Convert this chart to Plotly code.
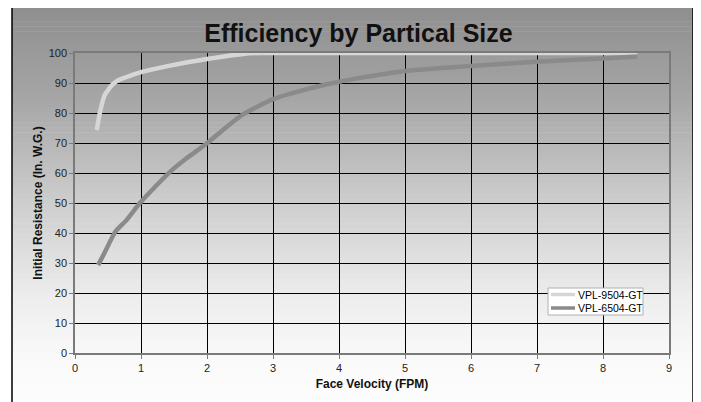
import plotly.graph_objects as go

# ---- data ----
vpl9504_x = [0.33, 0.38, 0.45, 0.56, 0.66, 1.0, 1.44, 2.0, 2.55, 2.8, 4.0, 6.0, 8.52]
vpl9504_y = [74.3, 80.4, 86.0, 89.3, 91.0, 93.6, 95.8, 98.0, 99.7, 100, 100, 100, 100]

vpl6504_x = [0.35, 0.45, 0.61, 0.78, 0.98, 1.24, 1.44, 1.69, 2.0, 2.2, 2.55, 3.0, 3.56,
             4.02, 4.32, 5.0, 6.0, 7.0, 8.0, 8.52]
vpl6504_y = [29.3, 33.5, 40.4, 44.3, 49.9, 56.0, 60.4, 64.9, 69.9, 73.6, 79.6, 84.6, 88.2,
             90.5, 91.7, 94.0, 95.7, 97.1, 98.2, 98.8]

series_names = ["VPL-9504-GT", "VPL-6504-GT"]
series_colors = ["#d6d6d6", "#8a8a8a"]
x_ticks = [0, 1, 2, 3, 4, 5, 6, 7, 8, 9]
y_ticks = [0, 10, 20, 30, 40, 50, 60, 70, 80, 90, 100]

# ---- layout constants (page has an 8px body margin) ----
OFF = 8
W, H = 701 - OFF, 402 - OFF
PL, PR, PT, PB = 75, 669, 53, 353          # plot area in reference pixels
ML, MR, MT, MB = PL - OFF, W - (PR - OFF), PT - OFF, H - (PB - OFF)
PW = PR - PL
PH = PB - PT
FONT = "Liberation Sans, Arial, sans-serif"


def px_x(px):
    return (px - PL) / PW


def px_y(py):
    return (PB - py) / PH


# gradient stops (reference pixel y -> grey level)
stops = [(6, 142), (100, 166), (200, 205), (300, 238), (360, 250), (410, 253)]


def grey_at(py):
    for (y0, g0), (y1, g1) in zip(stops[:-1], stops[1:]):
        if y0 <= py <= y1:
            t = (py - y0) / (y1 - y0)
            return g0 + t * (g1 - g0)
    return stops[-1][1]


shapes = []
top, bottom = 6, 410
n = 80
step = (bottom - top) / n
for i in range(n):
    y0 = top + i * step
    y1 = y0 + step + 0.6
    g = int(round(grey_at(y0 + step / 2)))
    shapes.append(dict(type="rect", xref="paper", yref="paper",
                       x0=px_x(12), x1=px_x(693), y0=px_y(y1), y1=px_y(y0),
                       line=dict(width=0), fillcolor=f"rgb({g},{g},{g})",
                       layer="below"))
# outer border
shapes.append(dict(type="rect", xref="paper", yref="paper",
                   x0=px_x(12), x1=px_x(693), y0=px_y(410), y1=px_y(6),
                   line=dict(color="black", width=1.5), fillcolor="rgba(0,0,0,0)",
                   layer="below"))

# manual legend box (reference pixels)
LX0, LX1, LY0, LY1 = 548, 643, 288, 315
shapes.append(dict(type="rect", xref="paper", yref="paper",
                   x0=px_x(LX0), x1=px_x(LX1), y0=px_y(LY1), y1=px_y(LY0),
                   line=dict(color="#b0b0b0", width=1), fillcolor="white", layer="above"))
annotations = []
for i, (name, col) in enumerate(zip(series_names, series_colors)):
    yc = 294.5 + i * 13.5
    shapes.append(dict(type="line", xref="paper", yref="paper",
                       x0=px_x(551), x1=px_x(575), y0=px_y(yc), y1=px_y(yc),
                       line=dict(color=col, width=3.5), layer="above"))
    annotations.append(dict(xref="paper", yref="paper", x=px_x(576), y=px_y(yc),
                            xanchor="left", yanchor="middle", showarrow=False,
                            text=name, font=dict(family=FONT, size=10.5, color="black")))

fig = go.Figure()
fig.add_trace(go.Scatter(x=vpl9504_x, y=vpl9504_y, mode="lines", name=series_names[0],
                         line=dict(color=series_colors[0], width=4.5, shape="spline", smoothing=0.5)))
fig.add_trace(go.Scatter(x=vpl6504_x, y=vpl6504_y, mode="lines", name=series_names[1],
                         line=dict(color=series_colors[1], width=4.5, shape="spline", smoothing=0.5)))

fig.update_layout(
    width=W, height=H,
    margin=dict(l=ML, r=MR, t=MT, b=MB, autoexpand=False),
    paper_bgcolor="white",
    plot_bgcolor="rgba(0,0,0,0)",
    font=dict(family=FONT, size=11, color="black"),
    title=dict(text="<b>Efficiency by Partical Size</b>", x=(358.5 - OFF) / W, xanchor="center",
               xref="container", yref="container", y=1 - (33 - OFF) / H, yanchor="middle",
               font=dict(family=FONT, size=25, color="#111")),
    shapes=shapes,
    annotations=annotations,
    showlegend=False,
)

fig.update_xaxes(
    range=[0, 9], tickvals=x_ticks, ticktext=[str(v) for v in x_ticks],
    showgrid=True, gridcolor="black", gridwidth=1,
    showline=True, linecolor="#7a7a7a", linewidth=1.5, mirror=True,
    ticks="outside", ticklen=4, tickcolor="#7a7a7a",
    zeroline=False,
    tickfont=dict(family=FONT, size=11, color="#222"),
    title=dict(text="<b>Face Velocity (FPM)</b>", standoff=7,
               font=dict(family=FONT, size=12, color="#111")),
)
fig.update_yaxes(
    range=[0, 100], tickvals=y_ticks, ticktext=[str(v) for v in y_ticks],
    showgrid=True, gridcolor="black", gridwidth=1,
    showline=True, linecolor="#7a7a7a", linewidth=1.5, mirror=True,
    ticks="outside", ticklen=4, tickcolor="#7a7a7a",
    zeroline=False,
    tickfont=dict(family=FONT, size=11, color="#222"),
    title=dict(text="<b>Initial Resistance (In. W.G.)</b>", standoff=3,
               font=dict(family=FONT, size=12, color="#111")),
)

fig.write_html("out.html")
